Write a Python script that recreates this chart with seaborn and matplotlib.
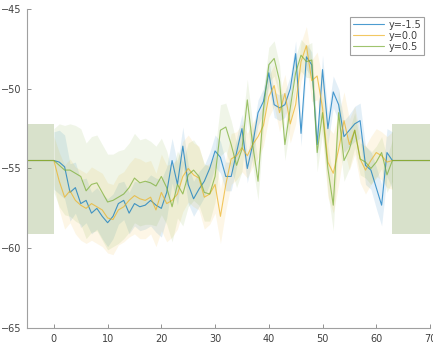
import numpy as np
import pandas as pd
import matplotlib
matplotlib.use("Agg")
import matplotlib.pyplot as plt
import seaborn as sns

# ---------------- data ----------------
x_data = list(range(0, 64))          # 0 .. 63
pad_left = [-5, 0]
pad_right = [63, 70]
pad_level = -54.5
pad_upper = -52.2
pad_lower = -59.1

series_names = ["y=-1.5", "y=0.0", "y=0.5"]
series_colors = ["#0072BD", "#EDB120", "#77AC30"]

blue = [-54.5, -54.6, -54.9, -56.5, -56.2, -57.2, -57.0, -57.8, -57.5, -58.0,
        -58.4, -58.0, -57.2, -57.0, -57.8, -57.2, -57.4, -57.3, -57.0, -57.3,
        -57.5, -56.5, -54.5, -56.0, -53.6, -56.0, -56.9, -56.3, -55.8, -55.0,
        -53.9, -54.3, -55.5, -55.5, -54.0, -52.5, -55.0, -53.5, -51.5, -50.8,
        -49.0, -51.0, -51.2, -51.0, -50.0, -47.8, -52.8, -48.0, -48.5, -53.5,
        -48.8, -52.5, -50.2, -51.0, -53.0, -52.6, -52.2, -52.0, -54.8, -55.1,
        -56.2, -57.3, -54.0, -54.5]
yellow = [-54.5, -55.8, -56.8, -56.4, -57.0, -57.3, -57.5, -57.2, -57.4, -57.6,
          -58.1, -58.2, -57.6, -57.4, -57.0, -56.7, -56.9, -57.0, -56.8, -57.6,
          -56.5, -57.2, -57.0, -56.6, -55.5, -55.0, -55.4, -55.6, -56.8, -56.6,
          -56.0, -58.0, -56.0, -54.4, -54.2, -53.7, -54.2, -53.5, -53.0, -52.3,
          -50.5, -49.8, -51.5, -50.3, -52.2, -51.0, -48.3, -47.3, -49.5, -49.2,
          -51.2, -54.6, -55.3, -53.8, -52.0, -53.5, -52.6, -54.4, -55.1, -54.5,
          -54.0, -54.2, -54.6, -54.5]
green = [-54.5, -54.8, -55.1, -55.1, -55.3, -55.5, -56.4, -56.0, -55.9, -56.5,
         -57.1, -57.0, -56.8, -56.6, -56.2, -55.6, -55.9, -55.8, -55.9, -56.1,
         -55.5, -56.2, -57.4, -56.0, -56.6, -55.4, -55.1, -55.5, -56.5, -56.6,
         -55.5, -52.6, -52.4, -53.5, -54.8, -53.8, -50.7, -53.5, -55.8, -51.3,
         -48.5, -48.1, -49.5, -53.5, -51.2, -49.0, -47.9, -48.3, -48.2, -54.0,
         -51.5, -55.0, -57.3, -51.5, -54.5, -53.8, -52.6, -54.4, -54.6, -55.0,
         -54.6, -54.0, -55.4, -54.5]

blue_hw = [1.8, 2.0, 2.0, 1.8, 1.6, 1.5, 1.4, 1.3, 1.3, 1.4,
           1.5, 1.4, 1.3, 1.2, 1.3, 1.4, 1.5, 1.5, 1.6, 1.7,
           1.8, 1.6, 1.4, 1.3, 1.2, 1.2, 1.1, 1.1, 1.0, 1.0,
           1.0, 1.0, 0.9, 0.9, 0.9, 0.9, 0.9, 0.8, 0.8, 0.8,
           0.8, 0.8, 0.8, 0.8, 0.8, 0.8, 0.8, 0.8, 0.8, 0.8,
           0.9, 1.0, 1.0, 1.0, 1.0, 1.0, 1.1, 1.1, 1.2, 1.2,
           1.3, 1.3, 1.5, 1.8]
yellow_hw = [1.5, 1.8, 2.0, 2.0, 2.1, 2.2, 2.2, 2.3, 2.3, 2.3,
             2.2, 2.2, 2.2, 2.2, 2.3, 2.4, 2.5, 2.4, 2.3, 2.3,
             2.4, 2.4, 2.3, 2.2, 2.2, 2.1, 2.0, 2.0, 2.0, 1.9,
             1.8, 1.7, 1.6, 1.6, 1.5, 1.5, 1.4, 1.4, 1.3, 1.3,
             1.3, 1.3, 1.2, 1.2, 1.2, 1.2, 1.2, 1.2, 1.3, 1.5,
             1.8, 2.2, 2.5, 2.2, 1.8, 1.6, 1.5, 1.5, 1.5, 1.5,
             1.5, 1.5, 1.6, 1.8]
green_hw = [2.0, 2.6, 2.8, 2.9, 3.0, 3.0, 3.0, 3.0, 3.0, 3.0,
            3.0, 2.9, 2.9, 2.8, 2.8, 2.8, 2.7, 2.7, 2.6, 2.5,
            2.4, 2.3, 2.2, 2.1, 2.0, 2.0, 1.9, 1.8, 1.8, 1.7,
            1.6, 1.6, 1.5, 1.5, 1.4, 1.4, 1.3, 1.3, 1.2, 1.2,
            1.1, 1.1, 1.0, 1.0, 1.0, 1.0, 1.0, 1.0, 1.1, 1.2,
            1.3, 1.5, 1.6, 1.5, 1.3, 1.2, 1.1, 1.0, 1.0, 1.0,
            1.0, 1.0, 1.1, 1.3]

values = [blue, yellow, green]
halfwidths = [blue_hw, yellow_hw, green_hw]

# ---------------- figure ----------------
sns.set_style("ticks")
plt.rcParams['font.family'] = ['DejaVu Sans']

fig = plt.figure(figsize=(4.33, 3.47), dpi=100)
ax = fig.add_axes([0.0624, 0.0548, 0.9306, 0.9193])

band_alpha = 0.11
xd = np.array(x_data)
for vals, hw, col in zip(values, halfwidths, series_colors):
    v = np.array(vals)
    h = np.array(hw)
    ax.fill_between(xd, v - h, v + h, color=col, alpha=band_alpha, linewidth=0)
    ax.fill_between(pad_left, [pad_lower] * 2, [pad_upper] * 2, color=col,
                    alpha=band_alpha, linewidth=0)
    ax.fill_between(pad_right, [pad_lower] * 2, [pad_upper] * 2, color=col,
                    alpha=band_alpha, linewidth=0)

rows = []
for name, vals in zip(series_names, values):
    xs = [pad_left[0]] + x_data + [pad_right[1]]
    vs = [pad_level] + vals + [pad_level]
    for xx, vv in zip(xs, vs):
        rows.append((xx, vv, name))
df = pd.DataFrame(rows, columns=["x", "value", "series"])

sns.lineplot(data=df, x="x", y="value", hue="series", hue_order=series_names,
             palette=series_colors, estimator=None, sort=False,
             linewidth=0.8, alpha=0.7, ax=ax)

ax.set_xlim(-5, 70)
ax.set_ylim(-65, -45)
ax.set_xticks([0, 10, 20, 30, 40, 50, 60, 70])
ax.set_yticks([-65, -60, -55, -50, -45])
ax.set_xlabel("")
ax.set_ylabel("")

for s in ["top", "right"]:
    ax.spines[s].set_visible(False)
for s in ["left", "bottom"]:
    ax.spines[s].set_color("#a0a0a0")
    ax.spines[s].set_linewidth(0.8)
ax.tick_params(direction="in", length=3, width=0.6, color="#808080",
               labelsize=7, labelcolor="#404040", pad=4)

leg = ax.legend(loc="upper right", bbox_to_anchor=(0.985, 0.975),
                fontsize=7, frameon=True, fancybox=False, framealpha=1,
                handlelength=3.2, handletextpad=0.4, labelspacing=0.1,
                borderpad=0.3, borderaxespad=0)
leg.get_frame().set_edgecolor("#a0a0a0")
leg.get_frame().set_linewidth(0.8)
for t in leg.get_texts():
    t.set_color("#404040")

fig.savefig("out.png", dpi=100)
